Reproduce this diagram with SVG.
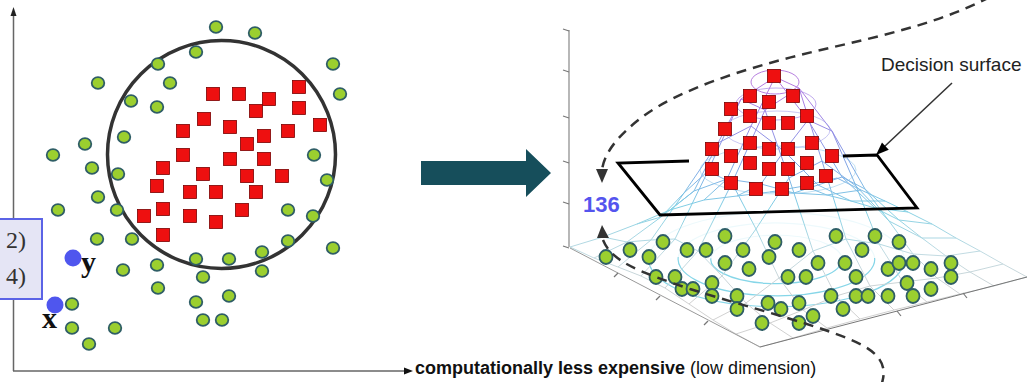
<svg xmlns="http://www.w3.org/2000/svg" width="1029" height="382" viewBox="0 0 1029 382">
<style>
.gd{fill:#9bcf2f;stroke:#2f5e66;stroke-width:1.8}
.rs{fill:#ee1010;stroke:#7a0000;stroke-width:0.8}
.mesh{fill:none;stroke:url(#meshg);stroke-width:1;stroke-linejoin:round}
.dash{fill:none;stroke:#333;stroke-width:2.5;stroke-dasharray:10 7}
.ax{stroke:#666;stroke-width:1.5;fill:none}
.tick{stroke:#777;stroke-width:1.2}
.cont{fill:none;stroke:#86d6e8;stroke-width:1.2}
.sans{font-family:"Liberation Sans",Arial,sans-serif}
.serif{font-family:"Liberation Serif","Times New Roman",serif}
</style>
<defs>
<linearGradient id="meshg" gradientUnits="userSpaceOnUse" x1="0" y1="70" x2="0" y2="300">
<stop offset="0" stop-color="#bb74de"/>
<stop offset="0.2" stop-color="#9f84e4"/>
<stop offset="0.4" stop-color="#80a2e6"/>
<stop offset="0.6" stop-color="#80d0e4"/>
<stop offset="0.8" stop-color="#c2dbe2"/>
<stop offset="1" stop-color="#d0d0d0"/>
</linearGradient>
<ellipse id="gL" rx="6.3" ry="5.8" class="gd"/>
<ellipse id="gR" rx="6.5" ry="7" class="gd"/>
<rect id="sq" x="-6.5" y="-6.5" width="13" height="13" class="rs"/>
</defs>
<rect width="1029" height="382" fill="#fff"/>

<g id="left-plot">
<line class="ax" x1="13.5" y1="371" x2="13.5" y2="15"/>
<polygon points="10.5,16 16.5,16 13.5,7" fill="#222"/>
<line class="ax" x1="13" y1="371" x2="405" y2="371"/>
<polygon points="404,367.5 404,374.5 413,371" fill="#111"/>
<circle cx="221.5" cy="154.5" r="114" fill="none" stroke="#333" stroke-width="3.5"/>
<g id="left-green">
<use href="#gL" x="216" y="27"/><use href="#gL" x="255" y="33"/><use href="#gL" x="196" y="52"/>
<use href="#gL" x="158" y="64"/><use href="#gL" x="333" y="64"/><use href="#gL" x="98" y="83"/>
<use href="#gL" x="170" y="83"/><use href="#gL" x="340" y="94"/><use href="#gL" x="131" y="101"/>
<use href="#gL" x="157" y="107"/><use href="#gL" x="124" y="137"/><use href="#gL" x="85" y="144"/>
<use href="#gL" x="53" y="155"/><use href="#gL" x="314" y="155"/><use href="#gL" x="92" y="168"/>
<use href="#gL" x="118" y="174"/><use href="#gL" x="327" y="180"/><use href="#gL" x="98" y="197"/>
<use href="#gL" x="58" y="210"/><use href="#gL" x="117" y="210"/><use href="#gL" x="288" y="210"/>
<use href="#gL" x="313" y="216"/><use href="#gL" x="97" y="239"/><use href="#gL" x="132" y="239"/>
<use href="#gL" x="288" y="241"/><use href="#gL" x="333" y="248"/><use href="#gL" x="196" y="259"/>
<use href="#gL" x="229" y="259"/><use href="#gL" x="262" y="252"/><use href="#gL" x="157" y="265"/>
<use href="#gL" x="123" y="270"/><use href="#gL" x="262" y="271"/><use href="#gL" x="203" y="277"/>
<use href="#gL" x="158" y="288"/><use href="#gL" x="229" y="296"/><use href="#gL" x="72" y="304"/>
<use href="#gL" x="196" y="302"/><use href="#gL" x="203" y="320"/><use href="#gL" x="222" y="320"/>
<use href="#gL" x="72" y="328"/><use href="#gL" x="115" y="328"/><use href="#gL" x="89" y="344"/>
</g>
<g id="left-red">
<use href="#sq" x="299" y="87"/><use href="#sq" x="213" y="94"/><use href="#sq" x="239" y="94"/>
<use href="#sq" x="269" y="99"/><use href="#sq" x="256" y="111"/><use href="#sq" x="299" y="108"/>
<use href="#sq" x="204" y="119"/><use href="#sq" x="183" y="131"/><use href="#sq" x="230" y="127"/>
<use href="#sq" x="264" y="136"/><use href="#sq" x="288" y="131"/><use href="#sq" x="320" y="125"/>
<use href="#sq" x="247" y="144"/><use href="#sq" x="183" y="155"/><use href="#sq" x="230" y="159"/>
<use href="#sq" x="264" y="159"/><use href="#sq" x="163" y="168"/><use href="#sq" x="203" y="174"/>
<use href="#sq" x="247" y="176"/><use href="#sq" x="282" y="176"/><use href="#sq" x="157" y="186"/>
<use href="#sq" x="190" y="192"/><use href="#sq" x="216" y="192"/><use href="#sq" x="256" y="192"/>
<use href="#sq" x="163" y="209"/><use href="#sq" x="144" y="216"/><use href="#sq" x="190" y="216"/>
<use href="#sq" x="242" y="210"/><use href="#sq" x="216" y="222"/><use href="#sq" x="163" y="235"/>
</g>
<g id="box">
<rect x="-2" y="219" width="44" height="80" fill="#e5e5f5" stroke="#5b63e6" stroke-width="2"/>
<text class="serif" x="6" y="248" font-size="24" fill="#333">2)</text>
<text class="serif" x="6" y="284" font-size="24" fill="#333">4)</text>
</g>
<g id="points">
<text class="serif" x="81" y="272" font-size="30" font-weight="bold" fill="#111">y</text>
<text class="serif" x="42" y="328" font-size="30" font-weight="bold" fill="#111">x</text>
<circle cx="73" cy="258" r="8.5" fill="#4f56ee"/>
<circle cx="55" cy="305" r="8.5" fill="#4f56ee"/>
</g>
<text id="axis-label" class="sans" x="415" y="374" font-size="18" fill="#111"><tspan font-weight="bold">computationally less expensive</tspan> (low dimension)</text>
</g>

<g id="big-arrow">
<polygon points="421,161 526,161 526,149 551,173 526,197 526,185 421,185" fill="#164e5b"/>
</g>

<g id="right-plot">
<line x1="569" y1="30" x2="569" y2="247" stroke="#888" stroke-width="1.2"/>
<line class="tick" x1="569" y1="31" x2="563" y2="29"/>
<line class="tick" x1="569" y1="72" x2="563" y2="70"/>
<line class="tick" x1="569" y1="118" x2="563" y2="116"/>
<line class="tick" x1="569" y1="163" x2="563" y2="161"/>
<line class="tick" x1="569" y1="204" x2="563" y2="202"/>
<line class="tick" x1="569" y1="248" x2="563" y2="246"/>
<g id="floor-contours" transform="matrix(-190,-99,267,-70,776.4,259.4)">
<circle class="cont" r="0.2" vector-effect="non-scaling-stroke"/>
<circle class="cont" r="0.3" vector-effect="non-scaling-stroke"/>
<circle class="cont" r="0.39" vector-effect="non-scaling-stroke"/>
</g>
<path d="M610,252 C650,238 675,205 690,160 C705,115 735,70 775,68 C812,70 832,110 845,155 C858,200 900,232 970,252 C880,262 700,262 610,252 Z" fill="#fff" opacity="0.85"/>
<g id="mesh">
<polyline class="mesh" points="760,347 793,338 827,328 860,319 894,310 927,302 960,294 994,286 1027,277"/>
<polyline class="mesh" points="736,334 770,323 803,310 836,296 870,286 903,282 937,278 970,272 1003,264"/>
<polyline class="mesh" points="713,320 746,303 779,278 813,251 846,239 879,244 913,254 946,256 980,251"/>
<polyline class="mesh" points="689,304 722,276 756,229 789,178 822,161 856,186 889,221 922,238 956,238"/>
<polyline class="mesh" points="665,288 698,251 732,183 765,110 799,88 832,131 865,189 899,220 932,224"/>
<polyline class="mesh" points="641,276 675,239 708,171 741,99 775,77 808,120 842,177 875,208 908,212"/>
<polyline class="mesh" points="618,267 651,240 684,193 718,143 751,126 784,151 818,185 851,201 885,201"/>
<polyline class="mesh" points="594,258 627,242 661,217 694,191 727,179 761,184 794,193 827,195 861,190"/>
<polyline class="mesh" points="570,247 603,237 637,224 670,210 704,200 737,196 770,192 804,186 837,178"/>
<polyline class="mesh" points="760,347 736,334 713,320 689,304 665,288 641,276 618,267 594,258 570,247"/>
<polyline class="mesh" points="793,338 770,323 746,303 722,276 698,251 675,239 651,240 627,242 603,237"/>
<polyline class="mesh" points="827,328 803,310 779,278 756,229 732,183 708,171 684,193 661,217 637,224"/>
<polyline class="mesh" points="860,319 836,296 813,251 789,178 765,110 741,99 718,143 694,191 670,210"/>
<polyline class="mesh" points="894,310 870,286 846,239 822,161 799,88 775,77 751,126 727,179 704,200"/>
<polyline class="mesh" points="927,302 903,282 879,244 856,186 832,131 808,120 784,151 761,184 737,196"/>
<polyline class="mesh" points="960,294 937,278 913,254 889,221 865,189 842,177 818,185 794,193 770,192"/>
<polyline class="mesh" points="994,286 970,272 946,256 922,238 899,220 875,208 851,201 827,195 804,186"/>
<polyline class="mesh" points="1027,277 1003,264 980,251 956,238 932,224 908,212 885,201 861,190 837,178"/>
<ellipse cx="775" cy="82" rx="24" ry="12" fill="none" stroke="#b77fe0" stroke-width="1"/>
<ellipse cx="776" cy="104" rx="40" ry="16" fill="none" stroke="#a98ae8" stroke-width="0.9" opacity="0.8"/>
<ellipse cx="777" cy="130" rx="53" ry="19" fill="none" stroke="#9a96e8" stroke-width="0.9" opacity="0.6"/>
<ellipse cx="778" cy="170" rx="78" ry="24" fill="none" stroke="#86c4e8" stroke-width="0.9" opacity="0.6"/>
</g>
<line x1="570" y1="248" x2="760" y2="347" stroke="#999" stroke-width="1"/>
<line x1="760" y1="347" x2="1027" y2="277" stroke="#777" stroke-width="1"/>
<line class="tick" x1="618" y1="273" x2="614" y2="277"/>
<line class="tick" x1="660" y1="296" x2="656" y2="300"/>
<line class="tick" x1="708" y1="321" x2="704" y2="325"/>
<line class="tick" x1="897" y1="311" x2="901" y2="316"/>
<line class="tick" x1="963" y1="293" x2="967" y2="298"/>
<g id="decision-plane" fill="none" stroke="#000" stroke-width="2.8">
<path d="M689,161 L618,163 L660,215 L917,208 L877,155 L843,156"/>
</g>
<g id="right-green">
<use href="#gR" x="606" y="257"/><use href="#gR" x="630" y="250"/><use href="#gR" x="649" y="257"/>
<use href="#gR" x="663" y="242"/><use href="#gR" x="687" y="250"/><use href="#gR" x="706" y="250"/>
<use href="#gR" x="725" y="236"/><use href="#gR" x="725" y="263"/><use href="#gR" x="743" y="250"/>
<use href="#gR" x="749" y="269"/><use href="#gR" x="769" y="257"/><use href="#gR" x="775" y="242"/>
<use href="#gR" x="799" y="250"/><use href="#gR" x="788" y="277"/><use href="#gR" x="806" y="277"/>
<use href="#gR" x="818" y="263"/><use href="#gR" x="836" y="236"/><use href="#gR" x="845" y="263"/>
<use href="#gR" x="862" y="250"/><use href="#gR" x="875" y="236"/><use href="#gR" x="899" y="242"/>
<use href="#gR" x="856" y="277"/><use href="#gR" x="888" y="269"/><use href="#gR" x="899" y="263"/>
<use href="#gR" x="913" y="263"/><use href="#gR" x="931" y="269"/><use href="#gR" x="951" y="263"/>
<use href="#gR" x="951" y="277"/><use href="#gR" x="907" y="283"/><use href="#gR" x="931" y="289"/>
<use href="#gR" x="656" y="277"/><use href="#gR" x="675" y="277"/><use href="#gR" x="682" y="289"/>
<use href="#gR" x="693" y="289"/><use href="#gR" x="712" y="283"/><use href="#gR" x="712" y="296"/>
<use href="#gR" x="737" y="296"/><use href="#gR" x="737" y="309"/><use href="#gR" x="768" y="303"/>
<use href="#gR" x="781" y="309"/><use href="#gR" x="799" y="303"/><use href="#gR" x="799" y="323"/>
<use href="#gR" x="813" y="316"/><use href="#gR" x="762" y="323"/><use href="#gR" x="831" y="296"/>
<use href="#gR" x="856" y="296"/><use href="#gR" x="868" y="296"/><use href="#gR" x="888" y="296"/>
<use href="#gR" x="913" y="296"/><use href="#gR" x="843" y="309"/>
</g>
<g id="right-red">
<use href="#sq" x="774" y="76"/><use href="#sq" x="750" y="96"/><use href="#sq" x="769" y="102"/>
<use href="#sq" x="793" y="96"/><use href="#sq" x="731" y="109"/><use href="#sq" x="750" y="116"/>
<use href="#sq" x="769" y="123"/><use href="#sq" x="788" y="123"/><use href="#sq" x="807" y="116"/>
<use href="#sq" x="725" y="129"/><use href="#sq" x="750" y="143"/><use href="#sq" x="769" y="149"/>
<use href="#sq" x="788" y="149"/><use href="#sq" x="812" y="143"/><use href="#sq" x="712" y="149"/>
<use href="#sq" x="731" y="156"/><use href="#sq" x="832" y="156"/><use href="#sq" x="712" y="169"/>
<use href="#sq" x="750" y="163"/><use href="#sq" x="769" y="169"/><use href="#sq" x="788" y="169"/>
<use href="#sq" x="807" y="163"/><use href="#sq" x="826" y="176"/><use href="#sq" x="731" y="183"/>
<use href="#sq" x="756" y="189"/><use href="#sq" x="782" y="189"/><use href="#sq" x="807" y="183"/>
</g>
<text id="value-136" class="sans" x="583" y="212" font-size="22" font-weight="bold" fill="#5454ee">136</text>
<g id="decision-label">
<text class="sans" x="881" y="71" font-size="19" fill="#222">Decision surface</text>
<line x1="952" y1="83" x2="884" y2="147" stroke="#333" stroke-width="1.5"/>
<polygon points="876,155 888.8,149.7 882,142.5" fill="#000"/>
</g>
</g>

<g id="connectors">
<path class="dash" d="M990,-3 C930,28 860,40 800,55 C740,70 680,90 645,115 C615,137 604,155 602,170"/>
<polygon points="596,169 608,169 602,183" fill="#333"/>
<path class="dash" d="M603,240 C612,262 640,272 690,289 C750,308 830,328 862,345 C886,358 886,372 881,386"/>
<polygon points="597,238 609,238 602,225" fill="#333"/>
</g>
</svg>
